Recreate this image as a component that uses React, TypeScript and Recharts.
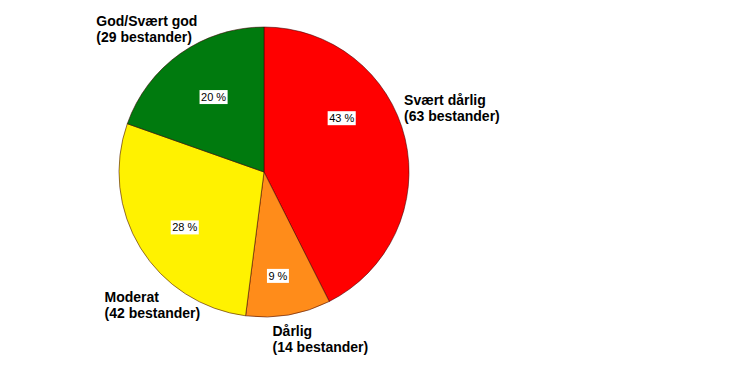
import React from "react";
import { PieChart, Pie, Cell } from "recharts";

const categories = ["Svært dårlig", "Dårlig", "Moderat", "God/Svært god"];
const counts = [63, 14, 42, 29];
const unitLabel = "bestander";
const colors = ["#FF0000", "#FF8C1A", "#FFF200", "#007A0E"];

// label layout nudges relative to the library-computed slice mid-angle points
const nameNudge = [
  { dx: -1, dy: -33 },
  { dx: -16, dy: 21 },
  { dx: -36, dy: 54 },
  { dx: -84, dy: -28 },
];
const pctNudge = [
  { dx: -14, dy: -32 },
  { dx: -2, dy: 11 },
  { dx: 1, dy: 6 },
  { dx: 4, dy: 2 },
];

const data = categories.map((c, i) => ({ name: c, value: counts[i] }));

const RAD = Math.PI / 180;
const FONT = "'Liberation Sans', Arial, sans-serif";

function textWidth(s: string) {
  let w = 0;
  for (const ch of s) {
    if (ch === " ") w += 3.06;
    else if (ch === "%") w += 9.78;
    else w += 6.12;
  }
  return w;
}

const renderLabel = (props: any) => {
  const { cx, cy, midAngle, outerRadius, percent, index, name, value } = props;
  const cos = Math.cos(-midAngle * RAD);
  const sin = Math.sin(-midAngle * RAD);
  // percent label
  const pr = outerRadius * 0.65;
  const px = cx + pr * cos + pctNudge[index].dx;
  const py = cy + pr * sin + pctNudge[index].dy;
  const pct = `${Math.round(percent * 100)} %`;
  const bw = textWidth(pct) + 3;
  const bh = 14;
  // name label
  const ox = cx + outerRadius * cos + nameNudge[index].dx;
  const oy = cy + outerRadius * sin + nameNudge[index].dy;
  return (
    <g>
      <rect x={px - bw / 2} y={py - bh / 2} width={bw} height={bh} fill="#FFFFFF" />
      <text
        x={px}
        y={py + 4}
        textAnchor="middle"
        fontFamily={FONT}
        fontSize={11}
        fill="#000"
      >
        {pct}
      </text>
      <text
        x={ox}
        y={oy}
        textAnchor="start"
        fontFamily={FONT}
        fontSize={14}
        fontWeight="bold"
        fill="#000"
      >
        <tspan x={ox} y={oy}>{name}</tspan>
        <tspan x={ox} y={oy + 16}>{`(${value} ${unitLabel})`}</tspan>
      </text>
    </g>
  );
};

export default function App() {
  return (
    <div style={{ position: "absolute", left: 0, top: 0, width: 740, height: 370, background: "#fff" }}>
      <PieChart width={740} height={370} margin={{ top: 0, right: 0, bottom: 0, left: 0 }}>
        <Pie
          data={data}
          dataKey="value"
          nameKey="name"
          cx={264}
          cy={172}
          outerRadius={145}
          startAngle={90}
          endAngle={-270}
          stroke="rgba(60,0,0,0.55)"
          strokeWidth={1}
          label={renderLabel}
          labelLine={false}
          isAnimationActive={false}
        >
          {data.map((d, i) => (
            <Cell key={d.name} fill={colors[i]} />
          ))}
        </Pie>
      </PieChart>
    </div>
  );
}
